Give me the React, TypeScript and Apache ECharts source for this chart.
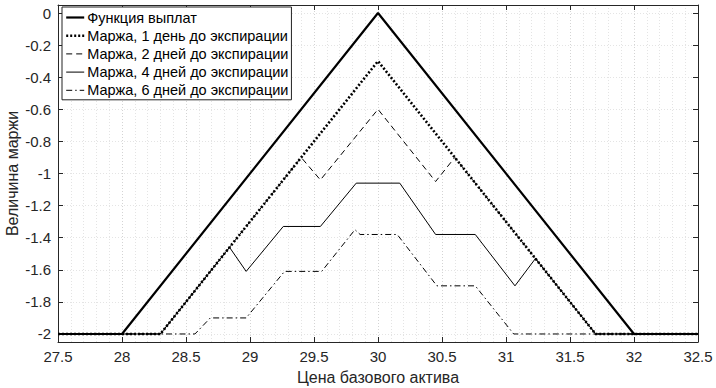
import React, { useEffect, useRef } from "react";
import * as echarts from "echarts";

const payoffX = [27.5, 28, 30, 32, 32.5];
const payoffY = [-2, -2, 0, -2, -2];

const day1X = [27.5, 28.3, 30, 31.7, 32.5];
const day1Y = [-2, -2, -0.3, -2, -2];

const day2X = [27.5, 28.3, 29.4, 29.55, 30, 30.45, 30.6, 31.7, 32.5];
const day2Y = [-2, -2, -0.9, -1.04, -0.6, -1.05, -0.9, -2, -2];

const day4X = [27.5, 28.3, 28.84, 28.97, 29.26, 29.55, 29.83, 30.17, 30.45, 30.76, 31.07, 31.23, 31.7, 32.5];
const day4Y = [-2, -2, -1.46, -1.61, -1.33, -1.33, -1.06, -1.06, -1.38, -1.38, -1.7, -1.53, -2, -2];

const day6X = [27.5, 28.57, 28.69, 28.97, 29.27, 29.56, 29.82, 29.86, 30.15, 30.46, 30.76, 31.06, 32.5];
const day6Y = [-2, -2, -1.9, -1.9, -1.61, -1.61, -1.35, -1.38, -1.38, -1.7, -1.7, -2, -2];

const yTicks = [0, -0.2, -0.4, -0.6, -0.8, -1, -1.2, -1.4, -1.6, -1.8, -2];

const seriesNames = [
  "Функция выплат",
  "Маржа, 1 день до экспирации",
  "Маржа, 2 дней до экспирации",
  "Маржа, 4 дней до экспирации",
  "Маржа, 6 дней до экспирации",
];

const FONT = "'Liberation Sans', Arial, Helvetica, sans-serif";
const AXIS_COLOR = "#262626";

const zip = (xs: number[], ys: number[]) => xs.map((x, i) => [x, ys[i]]);

export default function App() {
  const ref = useRef<HTMLDivElement>(null);
  useEffect(() => {
    if (!ref.current) return;
    const chart = echarts.init(ref.current, null, { renderer: "svg" });
    const gridLine = { show: true, lineStyle: { type: [1, 2], color: "#d4d4d4", width: 1 } };
    const minorLine = { show: true, lineStyle: { type: [1, 2], color: "#e4e4e4", width: 1 } };
    const styles: any[] = [
      { width: 2.2, type: "solid" },
      { width: 2.6, type: [2, 2] },
      { width: 1, type: [6, 4] },
      { width: 1, type: "solid" },
      { width: 1, type: [6, 3, 1.5, 3] },
    ];
    const xsAll = [payoffX, day1X, day2X, day4X, day6X];
    const ysAll = [payoffY, day1Y, day2Y, day4Y, day6Y];
    chart.setOption({
      animation: false,
      backgroundColor: "#fff",
      textStyle: { fontFamily: FONT },
      grid: { left: 58, right: 18, top: 5, bottom: 46, containLabel: false, outerBoundsMode: "none" },
      legend: {
        left: 62,
        top: 7,
        orient: "vertical",
        backgroundColor: "#fff",
        borderColor: "#222",
        borderWidth: 1,
        borderRadius: 0,
        padding: [3, 3, 2, 3],
        itemGap: 3.2,
        itemWidth: 18,
        itemHeight: 14,
        itemStyle: { opacity: 0 },
        textStyle: { fontSize: 14.5, lineHeight: 14, color: "#000", fontFamily: FONT, padding: [0, 0, 0, -2] },
        data: seriesNames.map((n, i) => ({
          name: n,
          lineStyle: { color: "#000", ...styles[i], width: Math.min(styles[i].width, 2.4) },
          itemStyle: { opacity: 0 },
        })),
      },
      xAxis: [
        {
          type: "value",
          min: 27.5,
          max: 32.5,
          interval: 0.5,
          position: "bottom",
          name: "Цена базового актива",
          nameLocation: "middle",
          nameGap: 27,
          nameMoveOverlap: false,
          nameTextStyle: { fontSize: 16, color: AXIS_COLOR, fontFamily: FONT },
          axisLine: { show: true, onZero: false, lineStyle: { color: AXIS_COLOR } },
          axisTick: { show: true, inside: true, length: 5, lineStyle: { color: AXIS_COLOR } },
          axisLabel: { fontSize: 15, color: AXIS_COLOR, margin: 7, fontFamily: FONT },
          splitLine: gridLine,
          minorTick: { show: false, splitNumber: 5 },
          minorSplitLine: minorLine,
        },
        {
          type: "value",
          min: 27.5,
          max: 32.5,
          interval: 0.5,
          position: "top",
          axisLine: { show: true, onZero: false, lineStyle: { color: AXIS_COLOR } },
          axisTick: { show: true, inside: true, length: 5, lineStyle: { color: AXIS_COLOR } },
          axisLabel: { show: false },
          splitLine: { show: false },
        },
      ],
      yAxis: [
        {
          type: "value",
          min: -2.05,
          max: 0.05,
          interval: 0.05,
          position: "left",
          name: "Величина маржи",
          nameLocation: "middle",
          nameGap: 38,
          nameMoveOverlap: false,
          nameRotate: 90,
          nameTextStyle: { fontSize: 16, color: AXIS_COLOR, fontFamily: FONT },
          axisLine: { show: true, onZero: false, lineStyle: { color: AXIS_COLOR } },
          axisTick: { show: true, inside: true, length: 5, customValues: yTicks, lineStyle: { color: AXIS_COLOR } },
          axisLabel: {
            fontSize: 15,
            color: AXIS_COLOR,
            margin: 7,
            fontFamily: FONT,
            customValues: yTicks,
            formatter: (v: number) => {
              const t = yTicks.find((y) => Math.abs(y - v) < 1e-6);
              return t === undefined ? "" : String(t);
            },
          },
          splitLine: minorLine,
        },
        {
          type: "value",
          min: -2.05,
          max: 0.05,
          interval: 0.05,
          position: "right",
          axisLine: { show: true, onZero: false, lineStyle: { color: AXIS_COLOR } },
          axisTick: { show: true, inside: true, length: 5, customValues: yTicks, lineStyle: { color: AXIS_COLOR } },
          axisLabel: { show: false },
          splitLine: { show: false },
        },
      ],
      series: seriesNames.map((name, i) => ({
        name,
        type: "line",
        data: zip(xsAll[i], ysAll[i]),
        symbol: "none",
        lineStyle: { color: "#000", ...styles[i] },
        itemStyle: { color: "#000" },
      })),
    });
    return () => chart.dispose();
  }, []);
  return (
    <div
      ref={ref}
      style={{ position: "fixed", left: 0, top: 0, width: 716, height: 388 }}
    />
  );
}
